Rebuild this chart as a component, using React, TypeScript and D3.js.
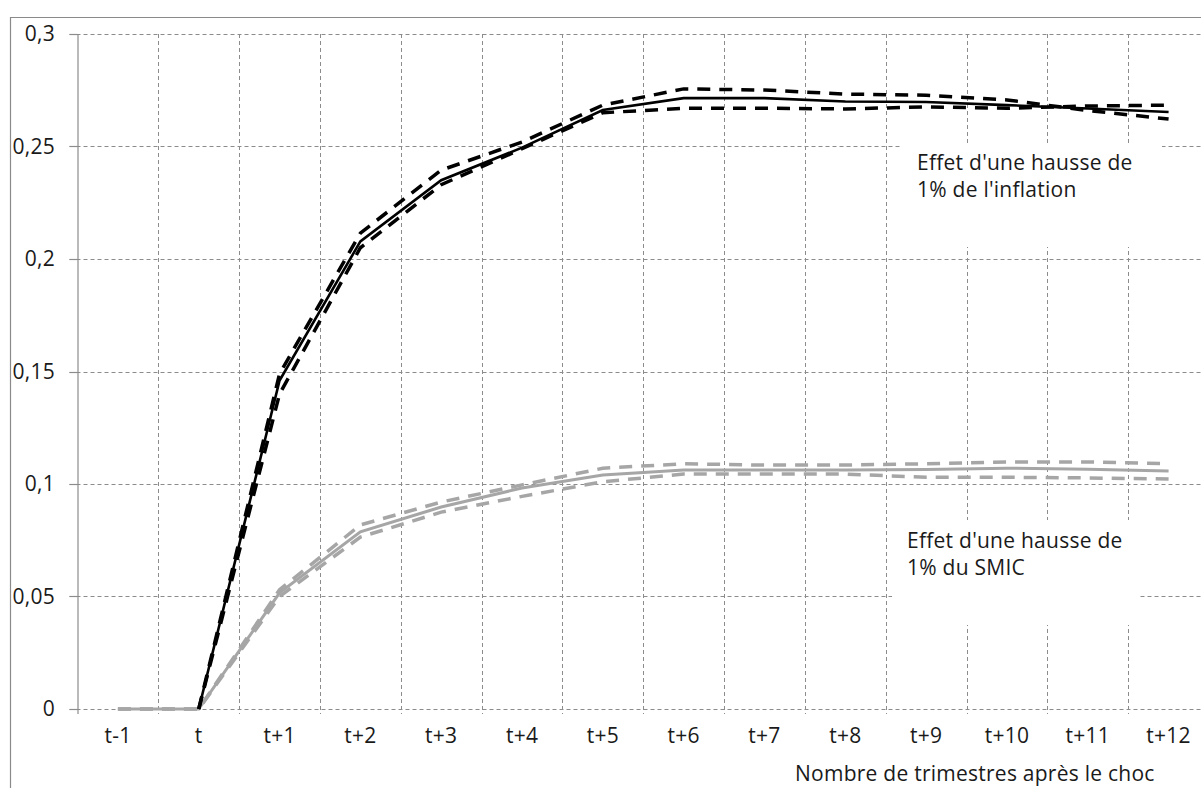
import React from "react";
import * as d3 from "d3";

const categories = ["t-1", "t", "t+1", "t+2", "t+3", "t+4", "t+5", "t+6", "t+7", "t+8", "t+9", "t+10", "t+11", "t+12"];
const yTicks = [0, 0.05, 0.1, 0.15, 0.2, 0.25, 0.3];
const yTickLabels = ["0", "0,05", "0,1", "0,15", "0,2", "0,25", "0,3"];

const inflation = [null, 0, 0.146, 0.2078, 0.235, 0.2495, 0.2662, 0.2715, 0.2715, 0.27, 0.2698, 0.2684, 0.2669, 0.2653];
const inflationUpper = [null, 0, 0.149, 0.2115, 0.2395, 0.252, 0.2684, 0.2756, 0.2751, 0.2733, 0.2728, 0.2707, 0.266, 0.2622];
const inflationLower = [null, 0, 0.14, 0.205, 0.233, 0.249, 0.265, 0.267, 0.267, 0.2667, 0.2676, 0.267, 0.268, 0.2684];

const smic = [0, 0, 0.0516, 0.0787, 0.0898, 0.0982, 0.104, 0.1062, 0.1062, 0.1062, 0.1064, 0.107, 0.1066, 0.1058];
const smicUpper = [0, 0, 0.053, 0.0818, 0.092, 0.0996, 0.107, 0.109, 0.1084, 0.1084, 0.109, 0.1098, 0.1098, 0.109];
const smicLower = [0, 0, 0.05, 0.0764, 0.0875, 0.0945, 0.101, 0.1044, 0.1044, 0.1044, 0.103, 0.103, 0.1027, 0.1022];

const inflationLabel = ["Effet d'une hausse de", "1% de l'inflation"];
const smicLabel = ["Effet d'une hausse de", "1% du SMIC"];
const xTitle = "Nombre de trimestres après le choc";

const W = 1201;
const H = 788;
const FONT = "'Open Sans', Lato, sans-serif";
const FS = 21;
const LS = 0.25;

export default function App() {
  const x = d3.scalePoint<string>().domain(categories).range([77.5, 1209]).padding(0.5);
  const step = x.step();
  const y = d3.scaleLinear().domain([0, 0.3]).range([709, 34]);

  const line = d3
    .line<number | null>()
    .defined((d) => d !== null)
    .x((_, i) => x(categories[i]) as number)
    .y((d) => y(d as number));

  const boundaries = d3.range(1, categories.length).map((i) => (x(categories[i]) as number) - step / 2);
  const axisX = (x(categories[0]) as number) - step / 2;

  const grid = "#8c8c8c";
  const black = "#000";
  const gray = "#a6a6a6";
  const textFill = "#1a1a1a";

  return (
    <svg width={W} height={H} style={{ display: "block", position: "absolute", left: 0, top: 0 }}>
      <rect x={0} y={0} width={W} height={H} fill="#fff" />
      {/* chart border */}
      <path d={`M10.5,${H} V17.5 H${W}`} fill="none" stroke="#8a8a8a" strokeWidth={1.2} />

      {/* horizontal gridlines */}
      {yTicks.map((t) => (
        <line key={"h" + t} x1={axisX - 8} x2={W} y1={Math.round(y(t)) + 0.5} y2={Math.round(y(t)) + 0.5}
          stroke={grid} strokeWidth={1} strokeDasharray="4,3" />
      ))}
      {/* vertical gridlines */}
      {boundaries.map((b, i) => (
        <line key={"v" + i} x1={Math.round(b) + 0.5} x2={Math.round(b) + 0.5} y1={y(0.3)} y2={y(0) + 5}
          stroke={grid} strokeWidth={1} strokeDasharray="4,3" />
      ))}
      {/* y axis */}
      <line x1={axisX + 0.5} x2={axisX + 0.5} y1={y(0.3)} y2={y(0) + 5} stroke={grid} strokeWidth={1.2} />
      {yTicks.map((t) => (
        <line key={"t" + t} x1={axisX - 8} x2={axisX} y1={Math.round(y(t)) + 0.5} y2={Math.round(y(t)) + 0.5}
          stroke={grid} strokeWidth={1.2} />
      ))}

      {/* y tick labels */}
      {yTicks.map((t, i) => (
        <text key={"yl" + t} x={55} y={y(t)} dy="0.35em" textAnchor="end" fontFamily={FONT} fontSize={FS}
          letterSpacing={LS} fill={textFill}>
          {yTickLabels[i]}
        </text>
      ))}
      {/* x tick labels */}
      {categories.map((c) => (
        <text key={"xl" + c} x={x(c) as number} y={743} textAnchor="middle" fontFamily={FONT} fontSize={FS}
          letterSpacing={LS} fill={textFill}>
          {c}
        </text>
      ))}
      <text x={795} y={781} fontFamily={FONT} fontSize={FS} letterSpacing={LS} fill={textFill}>{xTitle}</text>

      {/* label boxes (white background) */}
      <rect x={902} y={143} width={260} height={104} fill="#fff" />
      <rect x={892} y={520} width={246} height={105} fill="#fff" />

      {/* SMIC series */}
      <path d={line(smicUpper) as string} fill="none" stroke={gray} strokeWidth={3.5} strokeDasharray="13,9" />
      <path d={line(smicLower) as string} fill="none" stroke={gray} strokeWidth={3.5} strokeDasharray="13,9" />
      <path d={line(smic) as string} fill="none" stroke={gray} strokeWidth={3} />

      {/* inflation series */}
      <path d={line(inflationUpper) as string} fill="none" stroke={black} strokeWidth={3.5} strokeDasharray="13,9" />
      <path d={line(inflationLower) as string} fill="none" stroke={black} strokeWidth={3.5} strokeDasharray="13,9" />
      <path d={line(inflation) as string} fill="none" stroke={black} strokeWidth={2.6} />

      {/* annotations */}
      {inflationLabel.map((s, i) => (
        <text key={"il" + i} x={917} y={170 + i * 27} fontFamily={FONT} fontSize={FS} letterSpacing={LS} fill={textFill}>{s}</text>
      ))}
      {smicLabel.map((s, i) => (
        <text key={"sl" + i} x={907} y={548 + i * 27} fontFamily={FONT} fontSize={FS} letterSpacing={LS} fill={textFill}>{s}</text>
      ))}
    </svg>
  );
}
